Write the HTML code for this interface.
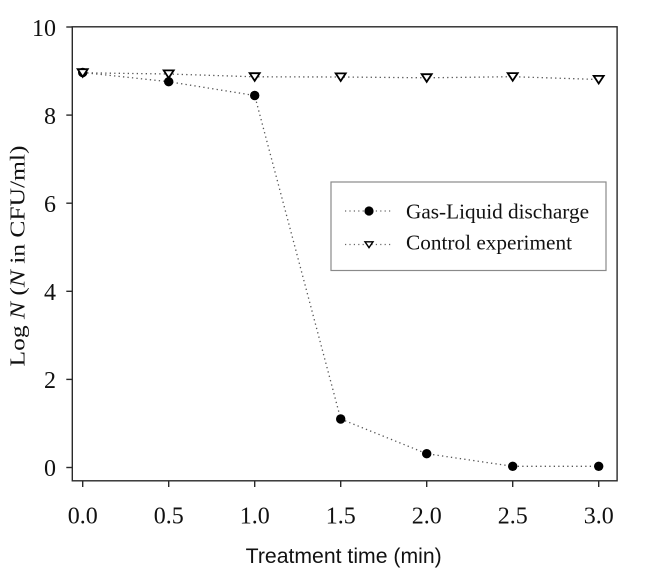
<!DOCTYPE html>
<html>
<head>
<meta charset="utf-8">
<style>
html,body{margin:0;padding:0;background:#fff;}
svg{display:block;}
</style>
</head>
<body>
<svg width="659" height="581" viewBox="0 0 659 581" xmlns="http://www.w3.org/2000/svg">
  <rect x="0" y="0" width="659" height="581" fill="#fff"/>
  <!-- frame -->
  <rect x="72.3" y="26.8" width="544.8" height="454" fill="none" stroke="#2a2a2a" stroke-width="1.4"/>
  <!-- y ticks -->
  <g stroke="#2a2a2a" stroke-width="1.4">
    <line x1="66.3" y1="467.5" x2="72.3" y2="467.5"/>
    <line x1="66.3" y1="379.4" x2="72.3" y2="379.4"/>
    <line x1="66.3" y1="291.3" x2="72.3" y2="291.3"/>
    <line x1="66.3" y1="203.2" x2="72.3" y2="203.2"/>
    <line x1="66.3" y1="115.1" x2="72.3" y2="115.1"/>
    <line x1="66.3" y1="27" x2="72.3" y2="27"/>
  </g>
  <!-- x ticks -->
  <g stroke="#2a2a2a" stroke-width="1.4">
    <line x1="82.7" y1="480.8" x2="82.7" y2="487"/>
    <line x1="168.7" y1="480.8" x2="168.7" y2="487"/>
    <line x1="254.7" y1="480.8" x2="254.7" y2="487"/>
    <line x1="340.7" y1="480.8" x2="340.7" y2="487"/>
    <line x1="426.7" y1="480.8" x2="426.7" y2="487"/>
    <line x1="512.7" y1="480.8" x2="512.7" y2="487"/>
    <line x1="598.7" y1="480.8" x2="598.7" y2="487"/>
  </g>
  <!-- y tick labels -->
  <g font-family="'Liberation Serif', serif" font-size="24" fill="#111" text-anchor="end">
    <text x="56" y="476">0</text>
    <text x="56" y="388">2</text>
    <text x="56" y="300">4</text>
    <text x="56" y="212">6</text>
    <text x="56" y="124">8</text>
    <text x="56" y="36">10</text>
  </g>
  <!-- x tick labels -->
  <g font-family="'Liberation Serif', serif" font-size="24" fill="#111" text-anchor="middle">
    <text x="82.7" y="523.3">0.0</text>
    <text x="168.7" y="523.3">0.5</text>
    <text x="254.7" y="523.3">1.0</text>
    <text x="340.7" y="523.3">1.5</text>
    <text x="426.7" y="523.3">2.0</text>
    <text x="512.7" y="523.3">2.5</text>
    <text x="598.7" y="523.3">3.0</text>
  </g>
  <!-- axis titles -->
  <text x="343.7" y="563" font-family="'Liberation Sans', sans-serif" font-size="21" fill="#111" text-anchor="middle" textLength="196" lengthAdjust="spacingAndGlyphs">Treatment time (min)</text>
  <text transform="translate(24.5,256) rotate(-90)" x="0" y="0" font-family="'Liberation Serif', serif" font-size="21" fill="#111" text-anchor="middle" textLength="221" lengthAdjust="spacingAndGlyphs">Log <tspan font-style="italic">N</tspan> (<tspan font-style="italic">N</tspan> in CFU/ml)</text>

  <!-- series lines -->
  <g fill="none" stroke="#555" stroke-width="1.3" stroke-dasharray="1.3 3.2">
    <polyline points="82.7,72.8 168.7,74 254.7,76.8 340.7,77 426.7,77.8 512.7,76.7 598.7,79.5"/>
    <polyline points="82.7,72.5 168.7,81.7 254.7,95.5 340.7,419 426.7,453.7 512.7,466.3 598.7,466.3"/>
  </g>
  <!-- gas-liquid dots -->
  <g fill="#000">
    <circle cx="82.7" cy="72.5" r="4.7"/>
    <circle cx="168.7" cy="81.7" r="4.7"/>
    <circle cx="254.7" cy="95.5" r="4.7"/>
    <circle cx="340.7" cy="419" r="4.7"/>
    <circle cx="426.7" cy="453.7" r="4.7"/>
    <circle cx="512.7" cy="466.3" r="4.7"/>
    <circle cx="598.7" cy="466.3" r="4.7"/>
  </g>
  <!-- control triangles -->
  <g fill="#fff" stroke="#000" stroke-width="1.8" stroke-linejoin="miter">
    <path d="M77.7,69.2 L87.7,69.2 L82.7,76.8 Z"/>
    <path d="M163.7,70.4 L173.7,70.4 L168.7,78 Z"/>
    <path d="M249.7,73.2 L259.7,73.2 L254.7,80.8 Z"/>
    <path d="M335.7,73.4 L345.7,73.4 L340.7,81 Z"/>
    <path d="M421.7,74.2 L431.7,74.2 L426.7,81.8 Z"/>
    <path d="M507.7,73.1 L517.7,73.1 L512.7,80.7 Z"/>
    <path d="M593.7,75.9 L603.7,75.9 L598.7,83.5 Z"/>
  </g>

  <!-- legend -->
  <rect x="331" y="182" width="275" height="88.5" fill="#fff" stroke="#8a8a8a" stroke-width="1.2"/>
  <g fill="none" stroke="#666" stroke-width="1.2" stroke-dasharray="1.2 3.2">
    <line x1="345" y1="211" x2="393" y2="211"/>
    <line x1="345" y1="244.5" x2="393" y2="244.5"/>
  </g>
  <circle cx="369" cy="211" r="4.6" fill="#000"/>
  <path d="M365,241.8 L373,241.8 L369,247.6 Z" fill="#fff" stroke="#000" stroke-width="1.4"/>
  <g font-family="'Liberation Serif', serif" font-size="21.5" fill="#111">
    <text x="406" y="218.3" textLength="183" lengthAdjust="spacingAndGlyphs">Gas-Liquid discharge</text>
    <text x="406" y="249.3" textLength="166" lengthAdjust="spacingAndGlyphs">Control experiment</text>
  </g>
</svg>
</body>
</html>
